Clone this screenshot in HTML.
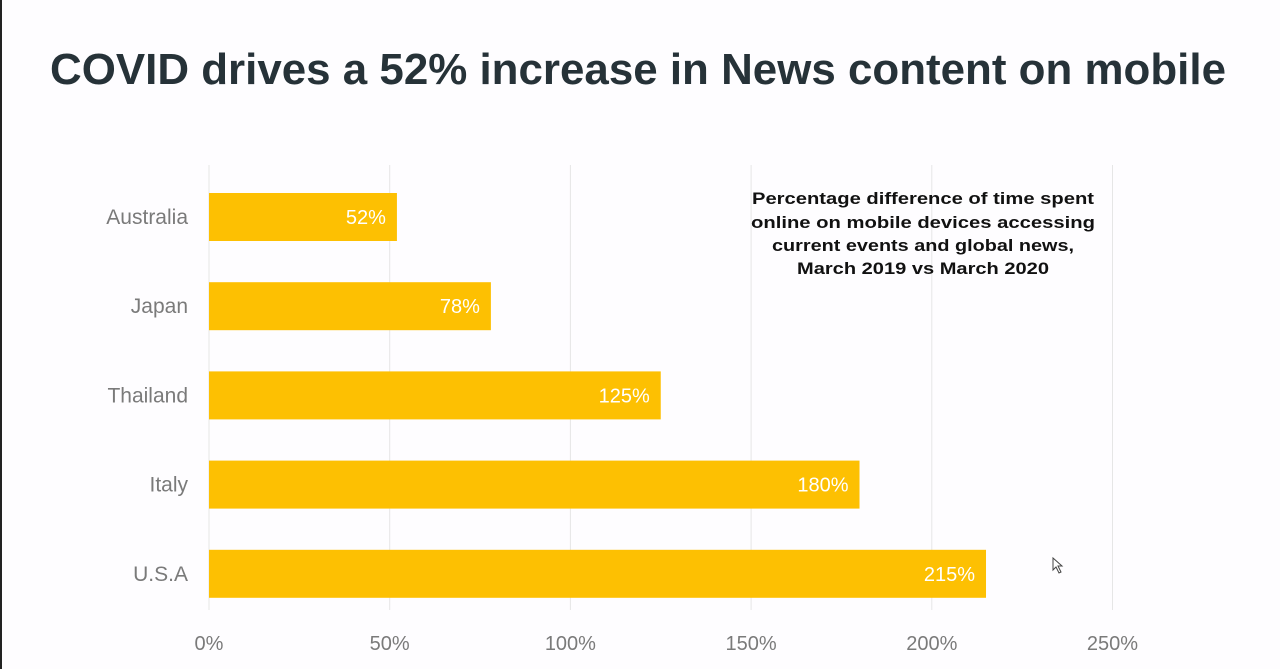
<!DOCTYPE html>
<html><head><meta charset="utf-8"><style>
html,body{margin:0;padding:0;background:#fefdff;}
svg{display:block;font-family:"Liberation Sans",sans-serif;}
</style></head><body>
<svg id="c" width="1280" height="669" viewBox="0 0 1280 669">
<rect x="0" y="0" width="2" height="669" fill="#222"/>
<text x="50" y="84" font-size="44" font-weight="bold" fill="#263238" textLength="1176" lengthAdjust="spacingAndGlyphs">COVID drives a 52% increase in News content on mobile</text>
<g id="grid"></g><g id="bars"></g><g id="labels"></g>
<g font-size="17" font-weight="bold" fill="#111" text-anchor="middle">
<text x="923" y="204" textLength="342" lengthAdjust="spacingAndGlyphs">Percentage difference of time spent</text>
<text x="923" y="228" textLength="344" lengthAdjust="spacingAndGlyphs">online on mobile devices accessing</text>
<text x="923" y="251" textLength="302" lengthAdjust="spacingAndGlyphs">current events and global news,</text>
<text x="923" y="274" textLength="252" lengthAdjust="spacingAndGlyphs">March 2019 vs March 2020</text>
</g>
<path d="M1053 558 L1053 570 L1056 567 L1059 573 L1061 572 L1058 566 L1062 566 Z" fill="#fff" stroke="#444" stroke-width="1"/>
</svg>
<script>
const categories=["Australia","Japan","Thailand","Italy","U.S.A"];
const values=[52,78,125,180,215];
const ticks=[0,50,100,150,200,250];
const ns="http://www.w3.org/2000/svg";
const x0=209,scale=361.4/100,top0=193,step=89.2,bh=48;
const xs=v=>x0+v*scale;
function mk(t,a,p){const e=document.createElementNS(ns,t);for(const k in a)e.setAttribute(k,a[k]);p.appendChild(e);return e;}
const grid=document.getElementById('grid'),bars=document.getElementById('bars'),labels=document.getElementById('labels');
ticks.forEach(t=>{
 const l=mk('line',{x1:xs(t),x2:xs(t),y1:165,y2:610,stroke:'#e6e6e6','stroke-width':1},grid);
 
 
 const tx=mk('text',{x:xs(t),y:650,'font-size':20,fill:'#7a7a7a','text-anchor':'middle'},labels);
 tx.textContent=t+'%';
 
 
});
categories.forEach((c,i)=>{
 const y=top0+i*step;
 const r=mk('rect',{x:x0,y:y,width:xs(values[i])-x0,height:bh,fill:'#fdc002'},bars);
 
 
 const v=mk('text',{x:xs(values[i])-11,y:y+31,'font-size':20,fill:'#fff','text-anchor':'end'},labels);
 v.textContent=values[i]+'%';
 
 
 const cl=mk('text',{x:188,y:y+31,'font-size':21,fill:'#7a7a7a','text-anchor':'end'},labels);
 cl.textContent=c;
 
 
});
</script>
</body></html>
